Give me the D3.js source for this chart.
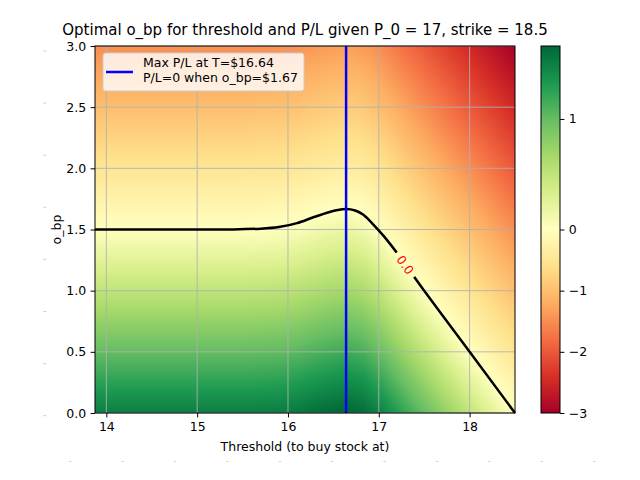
<!DOCTYPE html>
<html><head><meta charset="utf-8">
<script src="https://cdn.jsdelivr.net/npm/d3@7"></script>
<style>
body{margin:0;background:#fff}
svg{display:block}
text{font-family:"DejaVu Sans",sans-serif;fill:#000}
</style></head>
<body><svg id="chart" width="640" height="480"></svg>
<script>
// ---------- data ----------
const title = "Optimal o_bp for threshold and P/L given P_0 = 17, strike = 18.5";
const xLabel = "Threshold (to buy stock at)";
const yLabel = "o_bp";
const legendLines = ["Max P/L at T=$16.64", "P/L=0 when o_bp=$1.67"];
const maxThreshold = 16.64;

// heat-map grid: columns = threshold, rows = o_bp, cell = P/L
const thresholds = [13.875, 14.5, 15.0, 15.5, 15.9, 16.1, 16.28, 16.46, 16.64, 16.83, 16.94, 17.05, 17.5, 18.0, 18.5];
const obpLevels = [0, 0.5, 1.0, 1.5, 2.0, 2.5, 3.0];
const plGrid = [
  [ 1.50, 1.50, 1.50, 1.50, 1.52, 1.55, 1.60, 1.64, 1.67, 1.62, 1.54, 1.45, 1.00, 0.50, 0.00],
  [ 1.00, 1.00, 1.00, 1.00, 1.02, 1.05, 1.10, 1.14, 1.17, 1.12, 1.04, 0.95, 0.50, 0.00,-0.50],
  [ 0.50, 0.50, 0.50, 0.50, 0.52, 0.55, 0.60, 0.64, 0.67, 0.62, 0.54, 0.45, 0.00,-0.50,-1.00],
  [ 0.00, 0.00, 0.00, 0.00, 0.02, 0.05, 0.10, 0.14, 0.17, 0.12, 0.04,-0.05,-0.50,-1.00,-1.50],
  [-0.50,-0.50,-0.50,-0.50,-0.48,-0.45,-0.40,-0.36,-0.33,-0.38,-0.46,-0.55,-1.00,-1.50,-2.00],
  [-1.00,-1.00,-1.00,-1.00,-0.98,-0.95,-0.90,-0.86,-0.83,-0.88,-0.96,-1.05,-1.50,-2.00,-2.50],
  [-1.50,-1.50,-1.50,-1.50,-1.48,-1.45,-1.40,-1.36,-1.33,-1.38,-1.46,-1.55,-2.00,-2.50,-3.00]
];

// P/L = 0 contour (black line)
const contourT   = [13.875, 15.0, 15.4, 15.7, 15.9, 16.1, 16.28, 16.46, 16.55, 16.64, 16.74, 16.83, 16.94, 17.05, 17.5, 18.0, 18.5];
const contourObp = [1.50, 1.50, 1.501, 1.507, 1.52, 1.552, 1.60, 1.643, 1.66, 1.667, 1.655, 1.62, 1.54, 1.45, 1.00, 0.50, 0.00];
const contourLabel = "0.0";
const contourLabelT = 17.29;

const xTicks = [14, 15, 16, 17, 18];
const yTicks = [0.0, 0.5, 1.0, 1.5, 2.0, 2.5, 3.0];
const cbarTicks = [1, 0, -1, -2, -3];
const colorDomain = [-3, 0, 1.66];
const rdylgn = ["#a50026","#d73027","#f46d43","#fdae61","#fee08b","#ffffbf","#d9ef8b","#a6d96a","#66bd63","#1a9850","#006837"];

// ---------- layout ----------
const M = {l:95, r:515, t:46, b:413};
const CB = {l:541, r:560};
const FS = 12.5;
const svg = d3.select("#chart");

const x = d3.scaleLinear().domain([13.875, 18.5]).range([M.l, M.r]);
const y = d3.scaleLinear().domain([0, 3]).range([M.b, M.t]);
const norm = d3.scaleLinear().domain(colorDomain).range([0, 0.5, 1]).clamp(true);
const cmap = d3.scaleLinear().domain(d3.range(11).map(i => i/10)).range(rdylgn).interpolate(d3.interpolateRgb);
const color = v => cmap(norm(v));

function plAt(T, o){
  const n = thresholds.length, m = obpLevels.length;
  let i = Math.max(0, Math.min(n-2, d3.bisectRight(thresholds, T)-1));
  let j = Math.max(0, Math.min(m-2, d3.bisectRight(obpLevels, o)-1));
  const tx = Math.max(0, Math.min(1, (T-thresholds[i])/(thresholds[i+1]-thresholds[i])));
  const ty = Math.max(0, Math.min(1, (o-obpLevels[j])/(obpLevels[j+1]-obpLevels[j])));
  const a = plGrid[j][i], b = plGrid[j][i+1], c = plGrid[j+1][i], d = plGrid[j+1][i+1];
  return (a*(1-tx)+b*tx)*(1-ty) + (c*(1-tx)+d*tx)*ty;
}

// heat map image
{
  const w = M.r-M.l, h = M.b-M.t;
  const cv = document.createElement("canvas"); cv.width = w; cv.height = h;
  const ctx = cv.getContext("2d");
  const img = ctx.createImageData(w, h);
  for (let py=0; py<h; py++){
    const o = y.invert(M.t+py+0.5);
    for (let px=0; px<w; px++){
      const T = x.invert(M.l+px+0.5);
      const c = d3.rgb(color(plAt(T, o)));
      const k = (py*w+px)*4;
      img.data[k]=c.r; img.data[k+1]=c.g; img.data[k+2]=c.b; img.data[k+3]=255;
    }
  }
  ctx.putImageData(img, 0, 0);
  svg.append("image").attr("x", M.l).attr("y", M.t).attr("width", w).attr("height", h)
    .attr("preserveAspectRatio","none").attr("href", cv.toDataURL());
}

// grid
const grid = svg.append("g").attr("stroke", "#b0b0b0").attr("stroke-width", 1).attr("opacity", 0.85);
grid.selectAll("line.gx").data(xTicks).join("line")
  .attr("x1", d => x(d)).attr("x2", d => x(d)).attr("y1", M.t).attr("y2", M.b);
grid.selectAll("line.gy").data(yTicks).join("line")
  .attr("y1", d => y(d)).attr("y2", d => y(d)).attr("x1", M.l).attr("x2", M.r);

// contour line with gap for the label
const lineGen = d3.line().x(d => x(d[0])).y(d => y(d[1])).curve(d3.curveMonotoneX);
const pts = contourT.map((t,i) => [t, contourObp[i]]);
const lblObp = 18.5 - contourLabelT;
const lx = x(contourLabelT), ly = y(lblObp);
const ang = Math.atan2(y(0)-y(1), x(1)-x(0)) * 180/Math.PI;
const defs = svg.append("defs");
const mask = defs.append("mask").attr("id","gapmask").attr("maskUnits","userSpaceOnUse")
  .attr("x",0).attr("y",0).attr("width",640).attr("height",480);
mask.append("rect").attr("width",640).attr("height",480).attr("fill","#fff");
mask.append("rect").attr("x",-15).attr("y",-8).attr("width",30).attr("height",16).attr("fill","#000")
  .attr("transform", `translate(${lx},${ly}) rotate(${ang})`);
svg.append("path").attr("d", lineGen(pts)).attr("fill","none").attr("stroke","#000")
  .attr("stroke-width", 2.5).attr("mask","url(#gapmask)");
svg.append("text").attr("transform", `translate(${lx},${ly}) rotate(${ang})`)
  .attr("text-anchor","middle").attr("dy","0.35em").style("font-size", FS+"px").style("fill","#ff0000")
  .text(contourLabel);

// blue max line
svg.append("line").attr("x1", x(maxThreshold)).attr("x2", x(maxThreshold))
  .attr("y1", y(0)).attr("y2", y(3)).attr("stroke","#0000ff").attr("stroke-width", 2.5);

// spines
svg.append("rect").attr("x",M.l).attr("y",M.t).attr("width",M.r-M.l).attr("height",M.b-M.t)
  .attr("fill","none").attr("stroke","#000").attr("stroke-width",1);

// axes
const xAxis = svg.append("g").attr("transform",`translate(0,${M.b})`)
  .call(d3.axisBottom(x).tickValues(xTicks).tickFormat(d3.format("d")).tickSize(4.4).tickPadding(4.4).tickSizeOuter(0));
const yAxis = svg.append("g").attr("transform",`translate(${M.l},0)`)
  .call(d3.axisLeft(y).tickValues(yTicks).tickFormat(d3.format(".1f")).tickSize(4.4).tickPadding(4.4).tickSizeOuter(0));
[xAxis, yAxis].forEach(g => {
  g.select(".domain").remove();
  g.selectAll("text").style("font-size", FS+"px").attr("font-family", null);
  g.selectAll("line").attr("stroke","#000");
});

// labels
svg.append("text").attr("x", (M.l+M.r)/2).attr("y", 35).attr("text-anchor","middle").style("font-size","15px").text(title);
svg.append("text").attr("x", (M.l+M.r)/2).attr("y", 451).attr("text-anchor","middle").style("font-size", FS+"px").text(xLabel);
svg.append("text").attr("transform", `translate(61,${(M.t+M.b)/2}) rotate(-90)`).attr("text-anchor","middle").style("font-size", FS+"px").text(yLabel);

// legend
const lg = svg.append("g");
lg.append("rect").attr("x",103).attr("y",53).attr("width",201).attr("height",38).attr("rx",2.5)
  .attr("fill","#fff").attr("fill-opacity",0.8).attr("stroke","#cccccc").attr("stroke-width",1);
lg.append("line").attr("x1",106).attr("x2",133).attr("y1",72).attr("y2",72).attr("stroke","#0000ff").attr("stroke-width",2.5);
lg.selectAll("text").data(legendLines).join("text").attr("x",143).attr("y",(d,i)=>67+i*14.8)
  .style("font-size", FS+"px").text(d => d);

// colorbar
const cbY = d3.scaleLinear().domain(colorDomain).range([M.b, (M.t+M.b)/2, M.t]);
{
  const w = CB.r-CB.l, h = M.b-M.t;
  const cv = document.createElement("canvas"); cv.width = w; cv.height = h;
  const ctx = cv.getContext("2d");
  for (let py=0; py<h; py++){
    ctx.fillStyle = color(cbY.invert(M.t+py+0.5));
    ctx.fillRect(0, py, w, 1);
  }
  svg.append("image").attr("x", CB.l).attr("y", M.t).attr("width", w).attr("height", h)
    .attr("preserveAspectRatio","none").attr("href", cv.toDataURL());
}
svg.append("rect").attr("x",CB.l).attr("y",M.t).attr("width",CB.r-CB.l).attr("height",M.b-M.t)
  .attr("fill","none").attr("stroke","#000").attr("stroke-width",1);
const cAxis = svg.append("g").attr("transform",`translate(${CB.r},0)`)
  .call(d3.axisRight(cbY).tickValues(cbarTicks).tickFormat(d3.format("d")).tickSize(4.4).tickPadding(4.4).tickSizeOuter(0));
cAxis.select(".domain").remove();
cAxis.selectAll("text").style("font-size", FS+"px").attr("font-family", null);
cAxis.selectAll("line").attr("stroke","#000");

// faint border marks seen in the reference
const marks = svg.append("g").attr("fill","#d4d4d4");
d3.range(8).forEach(k => marks.append("rect").attr("x",43).attr("y",50.5+k*52.1).attr("width",3.5).attr("height",1));
d3.range(11).forEach(k => marks.append("rect").attr("x",69+k*52.4).attr("y",461).attr("width",2.5).attr("height",1));
</script></body></html>
